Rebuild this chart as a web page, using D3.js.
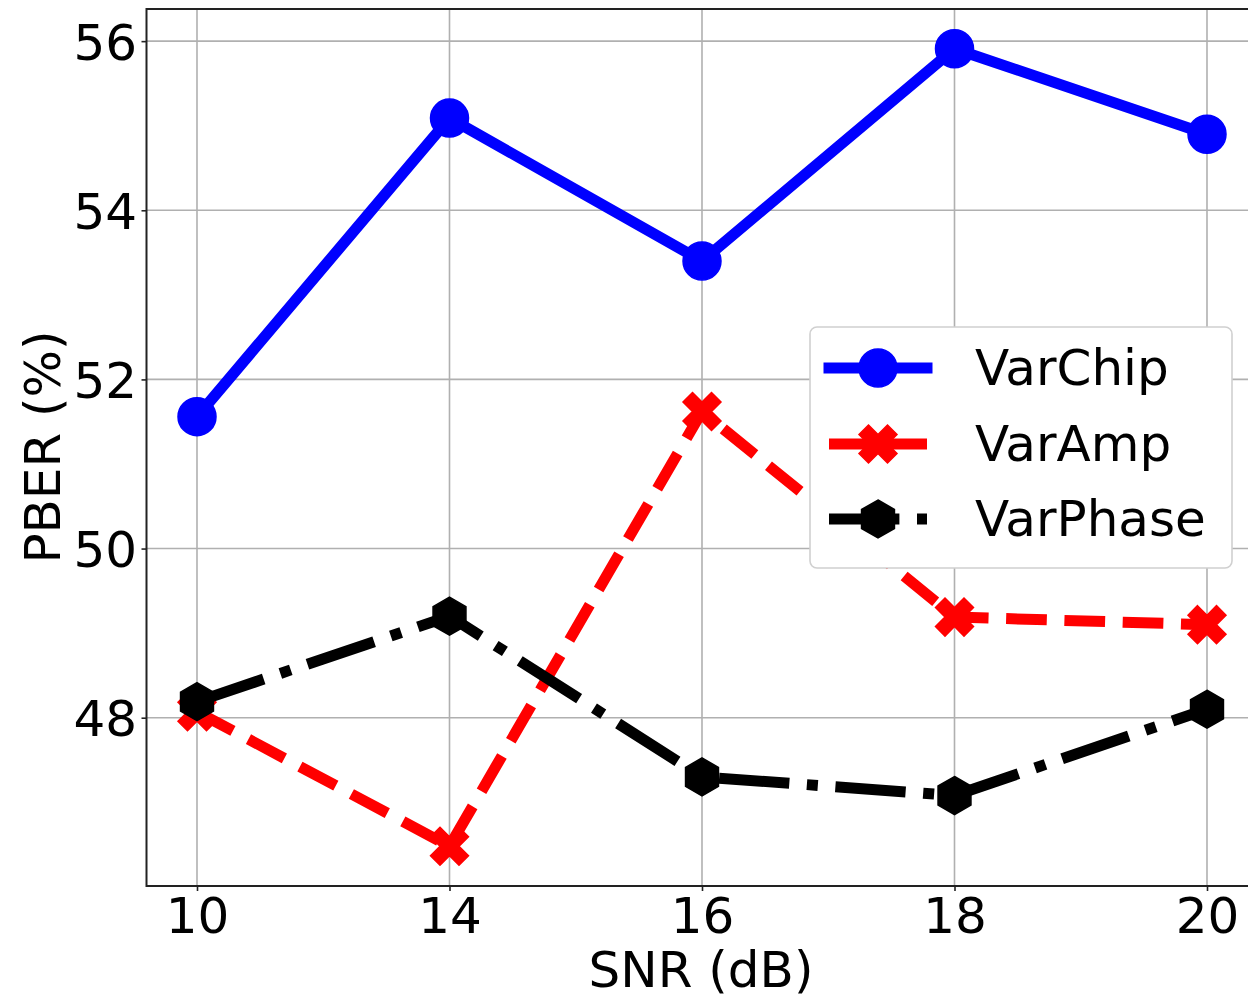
<!DOCTYPE html>
<html>
<head>
<meta charset="utf-8">
<script src="https://cdn.jsdelivr.net/npm/d3@7"></script>
<style>
  html, body { margin: 0; padding: 0; background: #fff; }
  svg { display: block; }
  text { font-family: "DejaVu Sans", sans-serif; fill: #000; }
</style>
</head>
<body>
<svg id="chart" width="1248" height="996"></svg>
<script>
// ---- data ----
const categories = ["10", "14", "16", "18", "20"];
const varChip  = [51.56, 55.09, 53.40, 55.91, 54.90];
const varAmp   = [48.07, 46.48, 51.62, 49.19, 49.10];
const varPhase = [48.19, 49.20, 47.30, 47.08, 48.10];
const yTicks = [48, 50, 52, 54, 56];
const seriesNames = ["VarChip", "VarAmp", "VarPhase"];
const xLabel = "SNR (dB)";
const yLabel = "PBER (%)";

// ---- layout ----
const W = 1248, H = 996;
const plot = { left: 146.5, right: 1257.5, top: 9, bottom: 886 };
const LW = 11, MS = 38, FS = 50;

const svg = d3.select("#chart");

const x = d3.scalePoint().domain(categories).range([plot.left, plot.right]).padding(0.2);
const y = d3.scaleLinear().domain([46.01, 56.38]).range([plot.bottom, plot.top]);

// grid
const g = svg.append("g");
g.selectAll("line.gx").data(categories).enter().append("line")
  .attr("x1", d => x(d)).attr("x2", d => x(d))
  .attr("y1", plot.top).attr("y2", plot.bottom)
  .attr("stroke", "#b0b0b0").attr("stroke-width", 1.6);
g.selectAll("line.gy").data(yTicks).enter().append("line")
  .attr("x1", plot.left).attr("x2", plot.right)
  .attr("y1", d => y(d)).attr("y2", d => y(d))
  .attr("stroke", "#b0b0b0").attr("stroke-width", 1.6);

// axes
const xAxis = d3.axisBottom(x).tickSize(5).tickPadding(10);
const yAxis = d3.axisLeft(y).tickValues(yTicks).tickSize(5).tickPadding(5).tickFormat(d3.format("d"));

const gx = svg.append("g").attr("transform", `translate(0,${plot.bottom})`).call(xAxis);
gx.select(".domain").remove();
gx.selectAll("line").attr("stroke", "#222").attr("stroke-width", 1.6);
gx.selectAll("text").attr("font-size", FS).attr("font-family", "DejaVu Sans").attr("dy", null)
  .attr("y", 47).attr("fill", "#000");

const gy = svg.append("g").attr("transform", `translate(${plot.left},0)`).call(yAxis);
gy.select(".domain").remove();
gy.selectAll("line").attr("stroke", "#222").attr("stroke-width", 1.6);
gy.selectAll("text").attr("font-size", FS).attr("font-family", "DejaVu Sans")
  .attr("dy", "0.364em").attr("x", -9.5).attr("fill", "#000");

// spines
svg.append("rect")
  .attr("x", plot.left).attr("y", plot.top)
  .attr("width", plot.right - plot.left).attr("height", plot.bottom - plot.top)
  .attr("fill", "none").attr("stroke", "#222").attr("stroke-width", 2);

// labels
svg.append("text").attr("x", (plot.left + plot.right) / 2 - 3 - 0).attr("x", 701).attr("y", 987)
  .attr("text-anchor", "middle").attr("font-size", FS).text(xLabel);
svg.append("text").attr("transform", `translate(60,447) rotate(-90)`)
  .attr("text-anchor", "middle").attr("font-size", FS).text(yLabel);

// markers
function hexPath(s) {
  const r = s / 2, pts = [];
  for (let i = 0; i < 6; i++) {
    const a = -Math.PI / 2 + i * Math.PI / 3;
    pts.push([r * Math.cos(a), r * Math.sin(a)]);
  }
  return "M" + pts.map(p => p.join(",")).join("L") + "Z";
}
function xPath(s) {
  const pts = [[-0.25,-0.5],[0,-0.25],[0.25,-0.5],[0.5,-0.25],[0.25,0],[0.5,0.25],
               [0.25,0.5],[0,0.25],[-0.25,0.5],[-0.5,0.25],[-0.25,0],[-0.5,-0.25]];
  return "M" + pts.map(p => [p[0]*s, p[1]*s].join(",")).join("L") + "Z";
}
function circlePath(s) {
  const r = s / 2;
  return `M${-r},0A${r},${r} 0 1,0 ${r},0A${r},${r} 0 1,0 ${-r},0Z`;
}

const series = [
  { name: seriesNames[0], values: varChip, color: "#0000ff", dash: null, cap: "square", marker: circlePath(MS) },
  { name: seriesNames[1], values: varAmp, color: "#ff0000", dash: [3.7*LW, 1.6*LW], cap: "butt", marker: xPath(MS) },
  { name: seriesNames[2], values: varPhase, color: "#000000", dash: [6.4*LW, 1.6*LW, 1*LW, 1.6*LW], cap: "butt", marker: hexPath(MS) }
];

const line = d3.line().x((d, i) => x(categories[i])).y(d => y(d));

series.forEach(s => {
  const gs = svg.append("g");
  gs.append("path").datum(s.values)
    .attr("d", line).attr("fill", "none")
    .attr("stroke", s.color).attr("stroke-width", LW)
    .attr("stroke-linejoin", "round").attr("stroke-linecap", s.cap)
    .attr("stroke-dasharray", s.dash ? s.dash.join(",") : null);
  gs.selectAll("path.m").data(s.values).enter().append("path")
    .attr("class", "m")
    .attr("transform", (d, i) => `translate(${x(categories[i])},${y(d)})`)
    .attr("d", s.marker).attr("fill", s.color)
    .attr("stroke", s.color).attr("stroke-width", 1.5);
});

// legend
const leg = svg.append("g");
leg.append("rect").attr("x", 810).attr("y", 327).attr("width", 422).attr("height", 241)
  .attr("rx", 7).attr("fill", "#fff").attr("stroke", "#d0d0d0").attr("stroke-width", 1.6);
const rowY = [368, 444, 519];
series.forEach((s, i) => {
  const ly = rowY[i];
  leg.append("path").attr("d", `M829,${ly}L927,${ly}`)
    .attr("stroke", s.color).attr("stroke-width", LW).attr("fill", "none")
    .attr("stroke-linecap", s.cap)
    .attr("stroke-dasharray", s.dash ? s.dash.join(",") : null);
  leg.append("path").attr("transform", `translate(878,${ly})`)
    .attr("d", s.marker).attr("fill", s.color).attr("stroke", s.color).attr("stroke-width", 1.5);
  leg.append("text").attr("x", 975).attr("y", ly + 17).attr("font-size", FS).text(s.name);
});
</script>
</body>
</html>
